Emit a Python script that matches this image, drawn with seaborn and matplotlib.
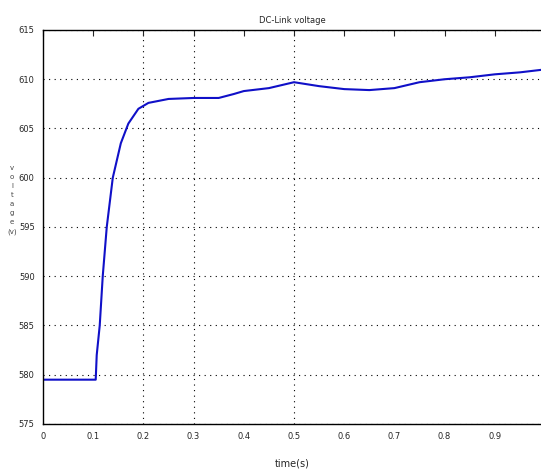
import numpy as np
import pandas as pd
import matplotlib
matplotlib.use("Agg")
import matplotlib.pyplot as plt
import seaborn as sns

# time (s) and DC-link voltage (V)
time_s = [0.0, 0.105, 0.107, 0.113, 0.119, 0.127, 0.139, 0.155, 0.17, 0.19,
          0.21, 0.25, 0.3, 0.35, 0.38, 0.4, 0.45, 0.5, 0.55, 0.6, 0.65,
          0.7, 0.75, 0.8, 0.85, 0.9, 0.95, 1.0]
voltage = [579.5, 579.5, 582.0, 585.0, 590.0, 595.0, 600.0, 603.5, 605.5, 607.0,
           607.6, 608.0, 608.1, 608.1, 608.5, 608.8, 609.1, 609.7, 609.3, 609.0, 608.9,
           609.1, 609.7, 610.0, 610.2, 610.5, 610.7, 611.0]

x_ticks = [0, 0.1, 0.2, 0.3, 0.4, 0.5, 0.6, 0.7, 0.8, 0.9]
y_ticks = [575, 580, 585, 590, 595, 600, 605, 610, 615]

df = pd.DataFrame({"t": time_s, "v": voltage})

sns.set_style("white")
fig = plt.figure(figsize=(5.41, 4.74), dpi=100)
ax = fig.add_axes([43 / 541, 50 / 474, 498 / 541, 394 / 474])

sns.lineplot(data=df, x="t", y="v", ax=ax, color="#1010c8", linewidth=1.5)

ax.set_xlim(0, 0.992)
ax.set_ylim(575, 615)
ax.set_xticks(x_ticks)
ax.set_xticklabels([f"{t:g}" for t in x_ticks])
ax.set_yticks(y_ticks)
ax.tick_params(direction="in", top=True, right=False, labelsize=6, length=4, pad=6)

ax.grid(True, linestyle=(0, (1, 4)), color="black", linewidth=0.8)
# the source render only kept a few vertical grid lines
for tick, gl in zip(x_ticks, ax.get_xgridlines()):
    gl.set_visible(tick in (0.2, 0.3, 0.5))

for side in ["top", "left", "bottom"]:
    ax.spines[side].set_visible(True)
    ax.spines[side].set_color("black")
    ax.spines[side].set_linewidth(1.0)
ax.spines["right"].set_visible(False)

ax.set_title("DC-Link voltage", fontsize=6, pad=5)
ax.set_xlabel("time(s)", fontsize=7, labelpad=12)
ax.set_ylabel("")
fig.text(12 / 541, 1 - 200 / 474, "v\no\nl\nt\na\ng\ne\n(v)", fontsize=5,
         ha="center", va="center", linespacing=1.6, color="#444444")

fig.savefig("out.png", dpi=100)
